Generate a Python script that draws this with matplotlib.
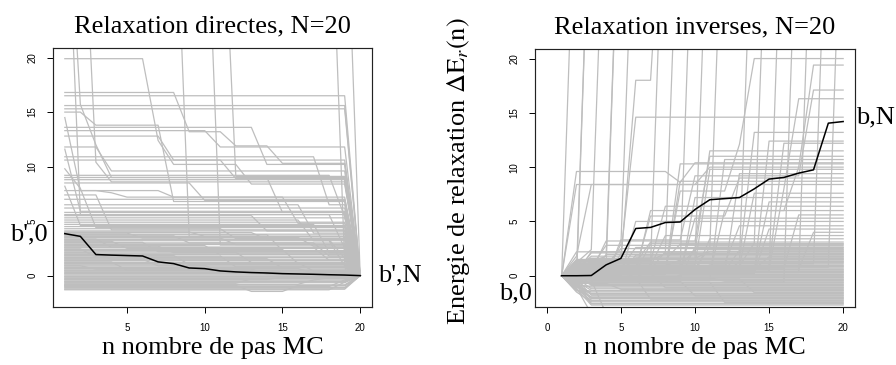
import matplotlib.pyplot as plt

plt.rcParams['font.family'] = 'Liberation Serif'
plt.rcParams['mathtext.fontset'] = 'stix'

# step index n = 1..20 for every trajectory
n_steps = list(range(1, 21))

# mean trajectories (black)
left_black = [3.85, 3.6, 1.93, 1.88, 1.84, 1.8, 1.26, 1.1, 0.7, 0.64,
              0.43, 0.34, 0.28, 0.24, 0.18, 0.15, 0.12, 0.08, 0.05, 0.0]
right_black = [0.0, 0.0, 0.02, 1.0, 1.6, 4.35, 4.45, 4.9, 4.95, 6.1,
               7.0, 7.1, 7.2, 8.0, 8.9, 9.05, 9.45, 9.75, 14.05, 14.2]

# individual runs (grey), "Relaxation directes"; 40 = off the top of the chart
left_high = [
    [19.9]*6 + [12.4] + [10.2]*5 + [8.4]*7 + [0],
    [16.8]*8 + [13.2]*3 + [11.9]*3 + [10.3]*5 + [0],
    [16.5]*19 + [0],
    [15.6]*19 + [0],
    [15.3]*19 + [0],
    [40, 15.7, 12.0] + [9.0]*16 + [0],
    [15.0]*2 + [13.8]*5 + [6.8]*12 + [0],
    [14.5] + [7.8]*6 + [7.2]*12 + [0],
    [13.6]*13 + [10.2]*6 + [0],
    [13.3]*10 + [11.8]*9 + [0],
    [12.8]*7 + [10.6]*12 + [0],
    [40, 40, 10.4] + [8.6]*16 + [0],
    [40] + [5.6]*18 + [0],
    [40]*8 + [3.6]*11 + [0],
    [40]*10 + [2.8]*9 + [0],
    [40]*11 + [9.1]*8 + [0],
    [40]*18 + [1.2, 0],
    [40]*19 + [0],
    [11.8]*3 + [9.6]*16 + [0],
    [10.9]*17 + [6.5]*2 + [0],
    [10.6]*11 + [8.9]*8 + [0],
    [9.2]*18 + [5.4, 0],
    [9.0]*14 + [5.8]*5 + [0],
    [8.8]*19 + [0],
    [8.5]*9 + [6.9]*10 + [0],
    [7.8]*3 + [7.6, 7.2] + [7.2]*10 + [4.8]*4 + [0],
    [7.0]*19 + [0],
    [6.5]*16 + [3.9]*3 + [0],
    [6.2]*19 + [0],
    [5.8]*19 + [0],
    [5.6]*18 + [2.5, 0],
    [5.5]*13 + [4.1]*6 + [0],
    [5.3]*19 + [0],
    [5.1]*16 + [3.2]*3 + [0],
    [4.9]*19 + [0],
    [4.7]*17 + [2.1]*2 + [0],
    [4.5]*19 + [0],
    [4.3]*11 + [3.4]*8 + [0],
    [11.6] + [5.9]*18 + [0],
    [9.8, 8.0] + [4.4]*17 + [0],
    [8.2] + [4.6]*18 + [0],
    [7.4]*3 + [4.2]*16 + [0],
]
left_band = [
    [4.1]*19 + [0],
    [4.0]*9 + [3.6]*10 + [0],
    [3.95]*13 + [3.3]*5 + [1.6, 0],
    [3.9]*5 + [3.45]*14 + [0],
    [3.8]*19 + [0],
    [3.75]*14 + [2.3]*5 + [0],
    [3.65]*8 + [3.0]*11 + [0],
    [3.6]*19 + [0],
    [3.5]*16 + [2.7]*3 + [0],
    [3.45]*11 + [2.85]*8 + [0],
    [3.35]*3 + [2.6]*16 + [0],
    [3.3]*19 + [0],
    [3.2]*18 + [0.9, 0],
    [3.15]*4 + [2.5]*15 + [0],
    [3.05]*6 + [2.2]*13 + [0],
    [3.0]*17 + [1.8]*2 + [0],
    [2.9]*19 + [0],
    [2.85]*19 + [0],
    [2.75]*10 + [1.9]*9 + [0],
    [2.7]*7 + [2.1]*12 + [0],
    [2.6]*17 + [1.4]*2 + [0],
    [2.55]*19 + [0],
    [2.45]*2 + [1.7]*17 + [0],
    [2.4]*15 + [1.1]*4 + [0],
    [2.3]*19 + [0],
    [2.25]*19 + [0],
    [2.15]*12 + [1.2]*7 + [0],
    [2.1]*3 + [1.5]*16 + [0],
    [2.0]*19 + [0],
    [1.95]*19 + [0],
    [1.85]*8 + [1.0]*11 + [0],
    [1.8]*11 + [0.8]*8 + [0],
    [1.7]*19 + [0],
    [1.65]*19 + [0],
    [1.55]*14 + [0.7]*5 + [0],
    [1.5]*6 + [0.9]*13 + [0],
    [1.4]*19 + [0],
    [1.35]*19 + [0],
    [1.25]*4 + [0.5]*15 + [0],
    [1.2]*16 + [0.4]*3 + [0],
    [1.1]*19 + [0],
    [1.05]*19 + [0],
    [0.95]*10 + [0.3]*9 + [0],
    [0.9]*2 + [0.6]*17 + [0],
    [0.8]*19 + [0],
    [0.75]*19 + [0],
    [0.65]*16 + [0.2]*3 + [0],
    [0.6]*13 + [0.1]*6 + [0],
    [0.5]*19 + [0],
    [0.45]*19 + [0],
    [0.35]*19 + [0],
    [0.3]*19 + [0],
    [0.2]*19 + [0],
    [0.15]*19 + [0],
    [0.05]*19 + [0],
    [-0.05]*19 + [0],
    [-0.1]*19 + [0],
    [-0.2]*19 + [0],
    [-0.25]*19 + [0],
    [-0.35]*14 + [-0.15]*5 + [0],
    [-0.4]*17 + [-0.2]*2 + [0],
    [-0.5]*19 + [0],
    [-0.55]*19 + [0],
    [-0.65]*19 + [0],
    [-0.7]*12 + [-0.3]*7 + [0],
    [-0.8]*16 + [-0.4]*3 + [0],
    [-0.85]*19 + [0],
    [-0.95]*19 + [0],
    [-1.0]*18 + [-0.4, 0],
    [-1.1]*19 + [0],
    [-1.15]*19 + [0],
    [-1.25]*19 + [0],
    [-1.3]*18 + [-0.6, 0],
    [-0.9]*12 + [-1.45]*3 + [-0.9]*4 + [0],
]

# individual runs (grey), "Relaxation inverses"
right_high = [
    [0] + [40]*19,
    [0, 0.3] + [40]*18,
    [0, -0.5] + [40]*18,
    [0, 1.2, 2.4] + [40]*17,
    [0, 0, 0, 0.8] + [40]*16,
    [0, 0.5, 1.8, 1.8] + [40]*16,
    [0, 0.2, 0.2, 0.2, 2.9] + [40]*15,
    [0, 0.4, 0.4, 0.4, 1.4, 18.0, 18.0] + [40]*13,
    [0, -0.3, -0.3, -0.3, -0.3, -0.3, 1.1] + [40]*13,
    [0] + [0.6]*6 + [2.2] + [40]*12,
    [0, 0.1, 0.1, 0.1] + [0.9]*5 + [40]*11,
    [0, -0.2, -0.2] + [1.5]*7 + [40]*10,
    [0] + [0.7]*9 + [2.6] + [40]*9,
    [0] + [0.2]*11 + [1.3] + [40]*7,
    [0] + [0.9]*12 + [3.0] + [40]*6,
    [0] + [0.4]*14 + [40]*5,
    [0] + [-0.6]*15 + [40]*4,
    [0] + [0.3]*16 + [40]*3,
    [0] + [1.1]*17 + [40]*2,
    [0] + [0.8]*18 + [40],
    [0] + [9.6]*7 + [8.6] + [10.4]*11,
    [0] + [8.4]*19,
    [0, 1.8] + [8.4]*8 + [10.0]*10,
    [0, 0.1, 0.1, 0.1, 2.0] + [14.6]*15,
    [0] + [0.5]*7 + [7.8]*4 + [12.1] + [20.0]*7,
    [0] + [0.3]*5 + [6.0]*10 + [10.0] + [19.4]*3,
    [0] + [-0.2]*3 + [3.3]*5 + [9.2]*8 + [17.1]*3,
    [0] + [0.6]*14 + [8.0] + [16.3]*4,
    [0] + [1.5]*12 + [13.2]*7,
    [0] + [0.2]*13 + [12.4]*6,
    [0] + [0.9]*14 + [12.2]*5,
    [0] + [2.2]*9 + [11.5]*10,
    [0, 0.4, 0.4] + [3.2]*7 + [11.0]*10,
    [0] + [-0.4]*10 + [10.7]*9,
    [0] + [0.3]*7 + [10.3]*12,
    [0] + [1.0]*9 + [9.8]*10,
    [0] + [0.2]*11 + [9.4]*8,
    [0] + [0.6]*5 + [5.5]*6 + [9.0]*8,
    [0] + [0.1]*7 + [8.7]*12,
    [0] + [0.8]*12 + [7.6]*7,
    [0] + [-0.1]*8 + [7.2]*11,
    [0] + [0.5]*13 + [6.8]*6,
    [0] + [1.3]*6 + [6.4]*13,
    [0] + [0.2]*10 + [6.0]*9,
    [0] + [0.7]*15 + [5.6]*4,
    [0] + [0.4]*8 + [5.3]*11,
    [0]*5 + [5.0]*15,
    [0] + [1.1]*11 + [4.6]*8,
    [0] + [0.3]*13 + [4.3]*6,
    [0] + [0.6]*16 + [4.0]*3,
    [0] + [0.9]*6 + [3.7]*13,
    [0] + [0.2]*9 + [3.4]*10,
]
right_band = [
    [0, 0.5] + [1.2]*4 + [3.1]*14,
    [0] + [0.3]*5 + [2.95]*14,
    [0, 0.2, 0.6] + [1.5]*5 + [2.9]*12,
    [0, 0.8, 0.8] + [2.8]*17,
    [0, 0.7] + [0.7]*3 + [2.6]*15,
    [0] + [-0.2]*8 + [2.65]*11,
    [0] + [1.0]*3 + [2.5]*16,
    [0, -0.3, 0.9] + [0.9]*6 + [2.4]*11,
    [0] + [0.4]*11 + [2.35]*8,
    [0, 1.1] + [1.6]*8 + [2.25]*10,
    [0, 0.2] + [2.2]*18,
    [0, 0.4] + [2.1]*18,
    [0] + [1.4]*6 + [2.05]*13,
    [0, 0.1, 0.1] + [1.95]*17,
    [0] + [0.1]*4 + [1.9]*15,
    [0, 0.6, 1.3] + [1.8]*17,
    [0] + [0.6]*13 + [1.75]*6,
    [0, -0.1] + [0.5]*3 + [1.65]*15,
    [0, -0.5] + [1.6]*18,
    [0, 0.9, 1.5] + [1.5]*17,
    [0] + [0.9]*7 + [1.45]*12,
    [0, 0.3] + [1.35]*18,
    [0, 0.3] + [1.3]*18,
    [0] + [1.2]*19,
    [0, -0.4, 0.6] + [1.15]*17,
    [0] + [0.2]*9 + [1.0]*10,
    [0, 0.5] + [0.95]*18,
    [0] + [0.85]*19,
    [0, 1.0] + [0.8]*18,
    [0] + [-0.3]*5 + [0.7]*14,
    [0, 0.2] + [0.6]*18,
    [0] + [0.55]*19,
    [0, -0.2, 0.45] + [0.45]*17,
    [0] + [0.9]*11 + [0.4]*8,
    [0, 0.1] + [0.3]*18,
    [0] + [0.25]*19,
    [0, 0.6, 0.15] + [0.15]*17,
    [0] + [-0.6]*7 + [0.1]*12,
    [0, -0.5] + [0.0]*18,
    [0] + [-0.05]*19,
    [0, 0.3, -0.1] + [-0.15]*17,
    [0] + [0.4]*4 + [-0.2]*15,
    [0, -0.2] + [-0.3]*18,
    [0] + [-0.35]*19,
    [0, 0.2] + [-0.45]*18,
    [0] + [-0.2]*10 + [-0.5]*9,
    [0, -0.6] + [-0.6]*18,
    [0] + [-0.65]*19,
    [0, -0.3, -0.75] + [-0.75]*17,
    [0, -0.4] + [-0.8]*18,
    [0, 0.4] + [-0.9]*18,
    [0] + [-0.95]*19,
    [0, -0.8] + [-1.05]*18,
    [0] + [0.2]*6 + [-1.1]*13,
    [0, -0.2, -1.2] + [-1.2]*17,
    [0] + [-0.7]*3 + [-1.25]*16,
    [0, -0.5] + [-1.35]*18,
    [0] + [-1.4]*19,
    [0, -1.0] + [-1.5]*18,
    [0] + [-0.3]*12 + [-1.55]*7,
    [0, -0.7, -1.65] + [-1.65]*17,
    [0, -1.0] + [-1.7]*18,
    [0, -0.3] + [-1.8]*18,
    [0] + [-0.5]*8 + [-1.85]*11,
    [0, -1.3] + [-1.95]*18,
    [0, -0.8] + [-2.0]*18,
    [0, -0.9, -2.1] + [-2.1]*17,
    [0] + [-0.2]*5 + [-2.15]*14,
    [0, -0.4] + [-2.25]*18,
    [0, -1.2] + [-2.3]*18,
    [0, -1.5] + [-2.4]*18,
    [0] + [-0.6]*10 + [-2.45]*9,
    [0, -0.6, -2.55] + [-2.55]*17,
    [0, -0.9] + [-2.6]*18,
    [0, -1.2] + [-2.7]*18,
    [0, -1.1] + [-3.5]*18,
    [0, -0.4, -0.4] + [-3.5]*17,
]

grey = '#bebebe'
fig = plt.figure(figsize=(8.96, 3.65), dpi=100)
ax1 = fig.add_axes([53/896, 58/365, 319/896, 259/365])
ax2 = fig.add_axes([535/896, 58/365, 320/896, 258/365])

for row in left_high + left_band:
    ax1.plot(n_steps, row, color=grey, lw=0.9)
ax1.plot(n_steps, left_black, color='black', lw=1.1)

for row in right_high + right_band:
    ax2.plot(n_steps, row, color=grey, lw=0.9)
ax2.plot(n_steps, right_black, color='black', lw=1.1)

for ax, xl, xt in [(ax1, (0.24, 20.76), [5, 10, 15, 20]),
                   (ax2, (-0.8, 20.8), [0, 5, 10, 15, 20])]:
    ax.set_xlim(*xl)
    ax.set_ylim(-2.88, 20.88)
    ax.set_xticks(xt)
    ax.set_yticks([0, 5, 10, 15, 20])
    ax.tick_params(direction='out', length=4.3, width=0.7, labelsize=7,
                   labelfontfamily='Liberation Sans', pad=7)
    ax.tick_params(axis='y', labelrotation=90)
    for lab in ax.get_yticklabels():
        lab.set_va('center')
    for s in ax.spines.values():
        s.set_linewidth(0.85)
        s.set_color('#222222')
    ax.set_xlabel("n nombre de pas MC", fontsize=19, va='baseline')
    ax.xaxis.set_label_coords(0.5, -47/259)

ax1.set_title("Relaxation directes, N=20", fontsize=19, pad=11.5)
ax2.set_title("Relaxation inverses, N=20", fontsize=19, pad=11.5)

fig.text(458/896, 1 - 171/365, r"Energie de relaxation $\Delta\mathrm{E}_r\mathrm{(n)}$",
         rotation=90, ha='center', va='center', fontsize=19)

ax1.text(-0.1, 3.8, "b',0", ha='right', va='center', fontsize=19, clip_on=False)
ax1.text(21.16, 0.0, "b',N", ha='left', va='center', fontsize=19, clip_on=False)
ax2.text(-1.0, -1.6, "b,0", ha='right', va='center', fontsize=19, clip_on=False)
ax2.text(20.9, 14.6, "b,N", ha='left', va='center', fontsize=19, clip_on=False)

fig.savefig('out.png', dpi=100)
